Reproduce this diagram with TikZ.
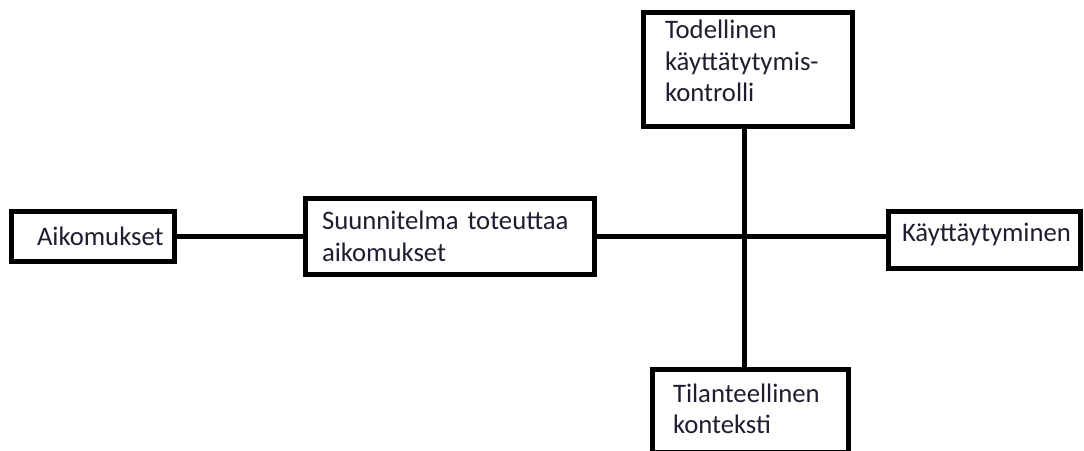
\documentclass[tikz,border=0pt]{standalone}
\usepackage{fontspec}
\setmainfont{Carlito}
\definecolor{txt}{HTML}{1E1E30}
\newcommand{\dstrut}[1]{\rule[-#1]{0pt}{0pt}}
\begin{document}
\begin{tikzpicture}[x=1pt,y=-1pt,
  box/.style={draw=black, line width=5pt, rectangle, fill=white, text=txt,
    font=\fontsize{26.7}{31.5}\selectfont, align=left, inner ysep=0pt},
  link/.style={draw=black, line width=4.5pt}]
\useasboundingbox (0,0) rectangle (1084,450);
\node[box, minimum width=163pt, minimum height=50pt, text width=163pt-51pt, inner xsep=25.5pt] (A) at (93,236.5) {Aikomukset};
\node[box, minimum width=289pt, minimum height=76pt, text width=289pt-33pt, inner xsep=16.5pt] (S) at (450,236.5) {Suunnitelma toteuttaa\\aikomukset};
\node[box, minimum width=209pt, minimum height=114pt, text width=209pt-43pt, inner xsep=21.5pt] (T) at (748,69.5) {Todellinen\\käyttätytymis-\\kontrolli\dstrut{17pt}};
\node[box, minimum width=192pt, minimum height=57pt, text width=192pt-27pt, inner xsep=13.5pt] (K) at (984.5,240) {Käyttäytyminen\dstrut{15pt}};
\node[box, minimum width=196pt, minimum height=82.5pt, text width=196pt-41pt, inner xsep=20.5pt] (Ti) at (750.5,410.75) {Tilanteellinen\\konteksti\dstrut{4.5pt}};
\coordinate (vx) at (744.5,236);
\draw[link] (A.east) -- (S.west);
\draw[link] (S.east) -- (S.east -| K.west);
\draw[link] (T.south -| vx) -- (Ti.north -| vx);
\end{tikzpicture}
\end{document}
